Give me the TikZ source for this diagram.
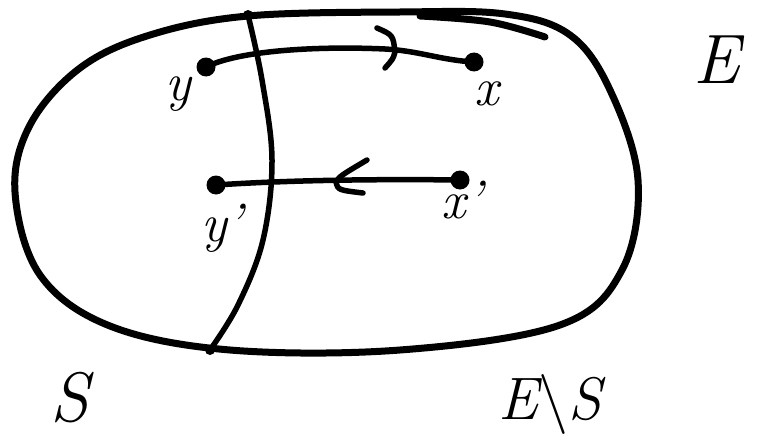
\documentclass[tikz,border=0pt]{standalone}
\usepackage{fontspec}
\begin{document}
\begin{tikzpicture}[x=1pt,y=-1pt, line cap=round, line join=round,
  stroke/.style={line width=7pt},
  thinstroke/.style={line width=5.5pt},
  dot/.style={circle,fill,inner sep=0pt,minimum size=19pt},
  smalldot/.style={circle,fill,inner sep=0pt,minimum size=10pt},
  lab/.style={font=\fontsize{54}{56}\selectfont\itshape},
  midlab/.style={font=\fontsize{60}{62}\selectfont\itshape},
  biglab/.style={font=\fontsize{70}{72}\selectfont\itshape}]
\useasboundingbox (0,0) rectangle (759,444);
% outer blob E
\draw[stroke] plot[smooth cycle, tension=0.6] coordinates {(15,192) (30,125) (80,68) (150,35) (248,16) (400,12) (505,14) (570,35) (610,90) (638,180) (622,270) (560,325) (400,350) (230,350) (110,326) (40,275)};
\draw[stroke] plot[smooth, tension=0.6] coordinates {(420,16) (490,22) (545,37)};
% divider curve
\node[smalldot] (top) at (248,15) {};
\node[smalldot] (bot) at (210,350) {};
\draw[thinstroke] plot[smooth, tension=0.6] coordinates {(248,15) (262,80) (272,160) (263,240) (238,305) (210,350)};
% points
\node[dot] (y) at (206,67) {};
\node[dot] (x) at (474,62) {};
\node[dot] (yp) at (216,185) {};
\node[dot] (xp) at (460,180) {};
% arrows
\draw[thinstroke] (y.center) .. controls (240,50) and (320,46) .. (385,49) .. controls (420,51) and (440,60) .. (x.center);
\coordinate (a1) at (377,28);
\coordinate (a2) at (395,52);
\coordinate (a3) at (385,68);
\draw[thinstroke] (a1) .. controls (393,35) .. (a2) .. controls (393,59) .. (a3);
\draw[thinstroke] (xp.center) .. controls (380,179) and (290,180) .. (yp.center);
\coordinate (b1) at (367,160);
\coordinate (b2) at (336,182);
\coordinate (b3) at (363,193);
\draw[thinstroke] (b1) .. controls (340,176) .. (b2) .. controls (338,190) .. (b3);
% labels
\node[lab] (ly) at (178,94) {y};
\node[lab] (lx) at (487,94) {x};
\node[lab] (lyp) at (222,228) {y'};
\node[lab] (lxp) at (462,200) {x'};
\node[biglab] (lE) at (717,60) {E};
\node[biglab] (lS) at (70,398) {S};
\node[midlab] (lES) at (550,404) {E{\upshape\textbackslash}S};
\end{tikzpicture}
\end{document}
